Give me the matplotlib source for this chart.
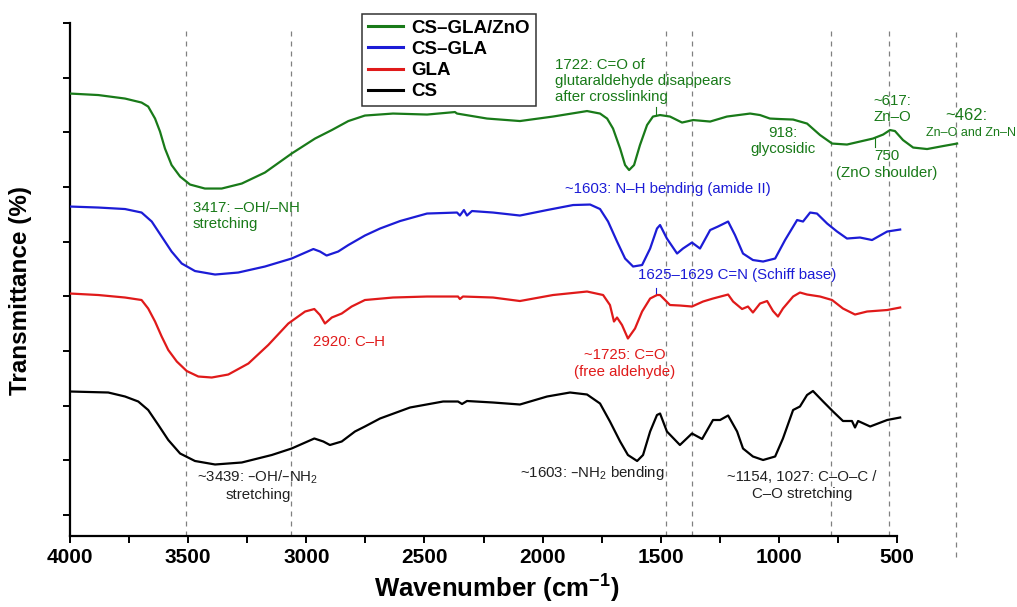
import numpy as np
import matplotlib
matplotlib.use("Agg")
import matplotlib.pyplot as plt

plt.rcParams['font.family'] = ['Liberation Sans', 'DejaVu Sans']
plt.rcParams['mathtext.default'] = 'regular'

#spectra (wavenumber in cm-1, transmittance in offset units)
cs_gla_zno_wn = [4000, 3880, 3767, 3697, 3669, 3640, 3619, 3598, 3570, 3534, 3492, 3429, 3358,
                 3273, 3175, 3062, 2963, 2892, 2822, 2752, 2633, 2489, 2371, 2362, 2235, 2096,
                 1956, 1812, 1757, 1727, 1702, 1672, 1651, 1634, 1613, 1588, 1558, 1533, 1503,
                 1461, 1410, 1363, 1291, 1220, 1122, 1080, 1038, 995, 940, 881, 826, 775, 712,
                 657, 602, 559, 530, 509, 475, 432, 373, 305, 246]
cs_gla_zno_t = [88.5, 88.2, 87.5, 86.7, 85.9, 83.5, 80.9, 77.5, 74.2, 71.9, 70.3, 69.5, 69.5,
                70.5, 72.7, 76.5, 79.5, 81.2, 83.0, 84.1, 84.5, 84.3, 84.8, 84.5, 83.5, 83.0,
                83.9, 85.0, 84.5, 83.5, 81.5, 77.5, 74.2, 73.2, 74.2, 78.2, 82.2, 83.9, 84.2,
                83.9, 82.7, 83.2, 82.9, 83.9, 84.5, 84.2, 83.5, 83.4, 83.3, 82.5, 80.2, 78.5, 78.3,
                78.9, 79.5, 80.3, 81.2, 81.0, 79.2, 77.7, 77.4, 78.0, 78.5]

cs_gla_wn = [4000, 3880, 3767, 3697, 3654, 3612, 3570, 3527, 3471, 3386, 3288, 3175, 3062, 2970,
             2942, 2914, 2865, 2822, 2752, 2688, 2603, 2489, 2362, 2350, 2333, 2320, 2299, 2210,
             2096, 1981, 1871, 1799, 1757, 1723, 1685, 1651, 1617, 1579, 1545, 1516, 1503, 1474,
             1431, 1406, 1368, 1334, 1291, 1258, 1215, 1186, 1152, 1110, 1067, 1016, 974, 923,
             898, 868, 839, 796, 754, 712, 657, 606, 542, 487]
cs_gla_t = [65.9, 65.7, 65.4, 64.7, 62.9, 59.9, 56.9, 54.5, 53.0, 52.3, 52.7, 53.9, 55.5, 57.4,
            56.9, 56.1, 56.9, 58.2, 60.1, 61.5, 63.0, 64.5, 64.7, 64.1, 65.2, 64.1, 65.0, 64.7,
            64.1, 65.2, 66.2, 66.3, 65.4, 62.9, 58.9, 55.5, 53.9, 54.2, 57.5, 61.5, 62.2, 59.5,
            56.5, 57.5, 58.7, 57.5, 61.2, 61.9, 62.9, 60.2, 56.5, 55.2, 54.9, 55.5, 59.2, 63.2,
            62.9, 64.7, 64.5, 62.5, 60.9, 59.5, 59.7, 59.2, 60.9, 61.3]

gla_wn = [4000, 3880, 3767, 3697, 3669, 3640, 3612, 3584, 3548, 3506, 3457, 3400, 3330, 3245,
          3161, 3076, 3005, 2966, 2942, 2921, 2892, 2850, 2808, 2752, 2633, 2489, 2358, 2350,
          2337, 2210, 2096, 1956, 1812, 1744, 1715, 1698, 1685, 1664, 1639, 1609, 1579, 1545,
          1516, 1503, 1461, 1419, 1368, 1321, 1279, 1215, 1194, 1156, 1131, 1110, 1080, 1050,
          1025, 1004, 983, 940, 911, 881, 826, 775, 729, 678, 627, 542, 487]
gla_t = [48.5, 48.2, 47.7, 47.2, 45.5, 42.9, 39.9, 37.2, 34.9, 33.0, 31.9, 31.7, 32.3, 34.5,
         38.2, 42.5, 44.9, 45.4, 44.2, 42.5, 43.7, 44.5, 45.9, 47.2, 47.7, 47.9, 47.9, 47.4,
         47.9, 47.7, 47.0, 48.2, 48.9, 48.2, 46.2, 42.9, 43.7, 42.2, 39.5, 41.5, 44.9, 47.5,
         48.2, 48.2, 46.2, 46.1, 45.9, 46.9, 47.5, 48.3, 46.9, 45.4, 45.9, 44.7, 46.5, 47.0,
         45.0, 43.9, 45.5, 47.9, 48.7, 48.3, 47.9, 47.2, 45.5, 44.3, 44.9, 45.2, 45.7]

cs_wn = [4000, 3838, 3767, 3711, 3669, 3626, 3584, 3534, 3471, 3386, 3273, 3146, 3062, 2966,
         2928, 2900, 2850, 2794, 2752, 2688, 2561, 2421, 2358, 2341, 2320, 2210, 2096, 1981,
         1884, 1812, 1757, 1715, 1672, 1639, 1600, 1575, 1545, 1516, 1503, 1474, 1419, 1368,
         1325, 1279, 1249, 1215, 1177, 1152, 1110, 1067, 1016, 983, 940, 911, 881, 856, 813,
         771, 729, 691, 678, 665, 614, 542, 487]
cs_t = [28.9, 28.7, 27.9, 26.9, 25.2, 22.2, 19.2, 16.5, 15.0, 14.3, 14.7, 16.2, 17.5, 19.5,
        18.9, 18.2, 18.9, 20.9, 21.9, 23.5, 25.7, 26.9, 26.9, 26.4, 27.0, 26.7, 26.3, 27.9,
        28.7, 28.3, 26.5, 22.9, 18.9, 16.2, 15.0, 16.2, 20.9, 24.2, 24.5, 20.9, 18.2, 20.5,
        19.4, 23.2, 23.2, 24.1, 20.9, 17.5, 15.9, 15.2, 15.9, 19.5, 25.2, 25.9, 28.2, 29.0, 26.9,
        24.9, 23.0, 23.0, 21.7, 23.0, 21.9, 23.2, 23.7]

#marked band positions (dashed guides)
guide_wn = [3509, 3065, 1478, 1368, 779, 534, 250]

green = '#197a19'
blue = '#1c1cd6'
red = '#e01a1a'

fig = plt.figure(figsize=(10.17, 6.07), dpi=100)
ax = fig.add_axes([0.0688, 0.117, 0.883, 0.845])

#dashed guides
for w in guide_wn[:-1]:
    ax.plot([w, w], [0, 101.6], '--', color='0.5', lw=0.9, dashes=(4, 4), zorder=1)
ax.plot([guide_wn[-1], guide_wn[-1]], [-4.2, 101.6], '--', color='0.5', lw=0.9, dashes=(4, 4),
        zorder=1, clip_on=False)

#spectra
line_kw = dict(lw=1.6, solid_joinstyle='round', zorder=3)
ax.plot(cs_gla_zno_wn, cs_gla_zno_t, color=green, label='CS–GLA/ZnO', **line_kw)
ax.plot(cs_gla_wn, cs_gla_t, color=blue, label='CS–GLA', **line_kw)
ax.plot(gla_wn, gla_t, color=red, label='GLA', **line_kw)
ax.plot(cs_wn, cs_t, color='black', label='CS', **line_kw)

ax.set_xlim(4000, 200)
ax.set_ylim(0, 102.6)

#axes styling
ax.spines['top'].set_visible(False)
ax.spines['right'].set_visible(False)
ax.spines['left'].set_linewidth(1.6)
ax.spines['bottom'].set_linewidth(1.6)
ax.spines['bottom'].set_bounds(500, 4000)
ax.set_xticks(np.arange(500, 4001, 500))
ax.set_xticks(np.arange(750, 4000, 500), minor=True)
ax.set_yticks(np.linspace(4.2, 102.6, 10))
ax.set_yticklabels([])
ax.tick_params(axis='both', which='both', direction='out', length=5, width=1.4)
ax.tick_params(axis='x', pad=4)
for lbl in ax.get_xticklabels():
    lbl.set_fontsize(15)
    lbl.set_fontweight('bold')

fig.text(0.488, 0.030, 'Wavenumber (cm$^{-1}$)', fontsize=18.5, fontweight='bold',
         ha='center', va='center')
fig.text(0.0197, 0.522, 'Transmittance (%)', fontsize=17.5, fontweight='bold',
         ha='center', va='center', rotation=90)

#legend
leg = ax.legend(loc='upper left', bbox_to_anchor=(0.356, 0.977), bbox_transform=fig.transFigure,
                prop={'size': 13.5, 'weight': 'bold'}, frameon=True, fancybox=False,
                handlelength=1.9, handletextpad=0.45, labelspacing=0.22, borderpad=0.3,
                borderaxespad=0)
leg.get_frame().set_edgecolor('black')
leg.get_frame().set_linewidth(1.1)
for h in leg.get_lines():
    h.set_linewidth(2.2)

#band annotations
fs = 10.8
ax.text(3480, 64.0, '3417: –OH/–NH\nstretching', color=green, fontsize=fs, ha='left', va='center')
ax.text(1947, 91.0, '1722: C=O of\nglutaraldehyde disappears\nafter crosslinking', color=green,
        fontsize=fs, ha='left', va='center')
ax.text(983, 79.0, '918:\nglycosidic', color=green, fontsize=fs, ha='center', va='center')
ax.text(521, 85.4, '~617:\nZn–O', color=green, fontsize=fs, ha='center', va='center')
ax.text(543, 74.3, '750\n(ZnO shoulder)', color=green, fontsize=fs, ha='center', va='center')
ax.text(208, 84.2, '~462:', color=green, fontsize=12, ha='center', va='center')
ax.text(187, 80.6, 'Zn–O and Zn–N', color=green, fontsize=9, ha='center', va='center')
ax.plot([1520, 1520], [85.8, 84.2], color=green, lw=0.8)
ax.plot([593, 593], [79.6, 77.8], color=green, lw=0.8)

ax.text(1905, 69.4, '~1603: N–H bending (amide II)', color=blue, fontsize=fs, ha='left', va='center')
ax.text(1596, 52.2, '1625–1629 C=N (Schiff base)', color=blue, fontsize=fs, ha='left', va='center')
ax.plot([1520, 1520], [49.6, 48.2], color=blue, lw=0.8)

ax.text(2972, 38.8, '2920: C–H', color=red, fontsize=fs, ha='left', va='center')
ax.text(1651, 34.5, '~1725: C=O\n(free aldehyde)', color=red, fontsize=fs, ha='center', va='center')

ax.text(3204, 10.1, '~3439: –OH/–NH$_2$\nstretching', color='#222222', fontsize=fs,
        ha='center', va='center')
ax.text(2096, 12.6, '~1603: –NH$_2$ bending', color='#222222', fontsize=fs, ha='left', va='center')
ax.text(902, 10.1, '~1154, 1027: C–O–C /\nC–O stretching', color='#222222', fontsize=fs,
        ha='center', va='center')

plt.savefig('out.png', dpi=100)
